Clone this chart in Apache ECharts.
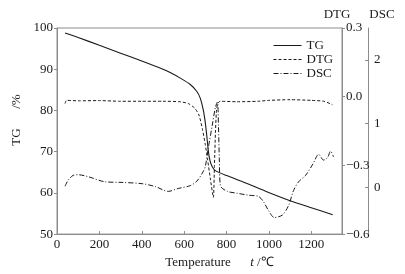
<!DOCTYPE html>
<html>
<head>
<meta charset="utf-8">
<style>
html,body{margin:0;padding:0;background:#fff;}
#main{width:405px;height:274px;}
</style>
<script src="https://cdn.jsdelivr.net/npm/echarts@6/dist/echarts.min.js"></script>
</head>
<body>
<div id="main"></div>
<script>
// TG 曲线 [温度, %]
var tgData = [[38,98.8],[100,97.7],[200,95.8],[300,93.9],[400,92.0],[500,90.0],[534,89.2],[580,87.9],[629,86.3],[660,84.6],[676,83.0],[690,80.2],[700,77.0],[707,73.8],[714,70.2],[722,67.8],[732,66.4],[747,65.4],[800,64.2],[900,62.2],[984,60.4],[1100,58.1],[1200,56.4],[1301,54.7]];
// DTG 曲线
var dtgData = [[38,-0.03],[45,-0.016],[100,-0.018],[200,-0.017],[300,-0.02],[400,-0.02],[500,-0.02],[580,-0.022],[620,-0.03],[650,-0.05],[670,-0.08],[686,-0.14],[700,-0.21],[710,-0.27],[724,-0.36],[738,-0.44],[743,-0.3],[748,-0.15],[752,-0.07],[758,-0.03],[770,-0.02],[850,-0.022],[950,-0.02],[1000,-0.016],[1100,-0.013],[1200,-0.016],[1260,-0.02],[1300,-0.035]];
// DSC 曲线
var dscData = [[38,0.02],[52,0.11],[76,0.19],[100,0.2],[147,0.17],[227,0.09],[307,0.08],[402,0.06],[464,0.015],[525,-0.06],[572,-0.015],[629,0.03],[660,0.1],[690,0.25],[700,0.33],[714,0.62],[733,0.98],[747,1.25],[757,1.34],[762,0.96],[766,0.45],[771,0.03],[804,-0.06],[851,-0.09],[903,-0.12],[951,-0.14],[974,-0.22],[998,-0.36],[1026,-0.47],[1064,-0.43],[1093,-0.28],[1116,-0.05],[1140,0.09],[1173,0.19],[1208,0.37],[1235,0.52],[1258,0.43],[1277,0.47],[1291,0.57],[1305,0.48]];

var xTicks = [0, 200, 400, 600, 800, 1000, 1200];
var dscTicks = [0, 1, 2];
var seriesNames = ['TG', 'DTG', 'DSC'];

var font = '"Liberation Serif", "Times New Roman", serif';
var axisGrey = '#8c8c8c';
var ink = '#1a1a1a';

var fmtMinus = function (s) {
	return String(s).replace('-', '\u2212');
};

var chart = echarts.init(document.getElementById('main'));
chart.setOption({
	animation: false,
	backgroundColor: '#fff',
	textStyle: {fontFamily: font},
	grid: {
		left: 57, right: 63, top: 28, bottom: 38,
		show: true,
		borderColor: axisGrey,
		borderWidth: 1
	},
	legend: {
		data: seriesNames,
		orient: 'vertical',
		left: 268,
		top: 34,
		itemWidth: 28,
		itemHeight: 10,
		itemGap: 1,
		itemStyle: {opacity: 0},
		lineStyle: {width: 1},
		textStyle: {fontFamily: font, fontSize: 13, color: ink}
	},
	xAxis: {
		type: 'value',
		min: 0,
		max: 1345,
		interval: 200,
		name: '{a|Temperature}      {i|t} /\u2103',
		nameLocation: 'middle',
		nameGap: 18,
		nameTextStyle: {
			fontFamily: font, fontSize: 13, color: ink,
			padding: [0, 0, 0, 40],
			rich: {
				a: {fontFamily: font, fontSize: 13, color: ink},
				i: {fontFamily: font, fontSize: 13, color: ink, fontStyle: 'italic'}
			}
		},
		axisLine: {onZero: false, lineStyle: {color: axisGrey, width: 1}},
		axisTick: {inside: true, length: 3, lineStyle: {color: axisGrey}, customValues: xTicks},
		axisLabel: {
			customValues: xTicks, margin: 4, fontFamily: font, fontSize: 13, color: ink,
			formatter: function (v) { return String(v); }
		},
		splitLine: {show: false}
	},
	yAxis: [
		{
			type: 'value',
			min: 50,
			max: 100,
			interval: 10,
			name: 'TG      /%',
			nameLocation: 'middle',
			nameGap: 26,
			nameTextStyle: {fontFamily: font, fontSize: 13, color: ink, padding: [0, 0, 0, 22]},
			axisLine: {show: true, lineStyle: {color: axisGrey}},
			axisTick: {show: true, length: 3, lineStyle: {color: axisGrey}},
			axisLabel: {margin: 4, fontFamily: font, fontSize: 13, color: ink},
			splitLine: {show: false}
		},
		{
			type: 'value',
			position: 'right',
			min: -0.6,
			max: 0.3,
			interval: 0.3,
			name: 'DTG',
			nameLocation: 'end',
			nameGap: 7,
			nameTextStyle: {fontFamily: font, fontSize: 13, color: ink, align: 'center', padding: [0, 10, 0, 0]},
			axisLine: {show: true, lineStyle: {color: axisGrey}},
			axisTick: {show: true, length: 3, lineStyle: {color: axisGrey}},
			axisLabel: {
				margin: 4, fontFamily: font, fontSize: 13, color: ink,
				formatter: function (v) { return fmtMinus(v.toFixed(1)); }
			},
			splitLine: {show: false}
		},
		{
			type: 'value',
			position: 'right',
			offset: 26,
			min: -0.73,
			max: 2.5,
			name: 'DSC',
			nameLocation: 'end',
			nameGap: 7,
			nameTextStyle: {fontFamily: font, fontSize: 13, color: ink, align: 'center', padding: [0, 0, 0, 28]},
			axisLine: {show: true, lineStyle: {color: axisGrey}},
			axisTick: {show: true, inside: true, length: 3, lineStyle: {color: axisGrey}, customValues: dscTicks},
			axisLabel: {customValues: dscTicks, margin: 6, fontFamily: font, fontSize: 13, color: ink},
			splitLine: {show: false}
		}
	],
	series: [
		{
			name: seriesNames[0],
			type: 'line',
			yAxisIndex: 0,
			symbol: 'none',
			smooth: 0.2,
			lineStyle: {color: ink, width: 1.1, type: 'solid'},
			itemStyle: {color: ink},
			data: tgData
		},
		{
			name: seriesNames[1],
			type: 'line',
			yAxisIndex: 1,
			symbol: 'none',
			smooth: 0.2,
			lineStyle: {color: ink, width: 1, type: [3, 2]},
			itemStyle: {color: ink},
			data: dtgData
		},
		{
			name: seriesNames[2],
			type: 'line',
			yAxisIndex: 2,
			symbol: 'none',
			smooth: 0.3,
			lineStyle: {color: ink, width: 1, type: [5, 2, 1, 2]},
			itemStyle: {color: ink},
			data: dscData
		}
	]
});
</script>
</body>
</html>
